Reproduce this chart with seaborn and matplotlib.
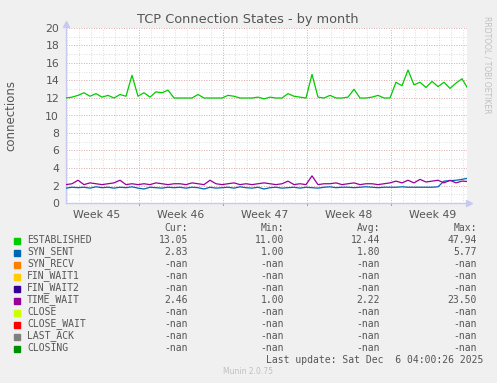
import numpy as np
import pandas as pd
import matplotlib
matplotlib.use("Agg")
import matplotlib.pyplot as plt
import seaborn as sns

established = [12.0, 12.1, 12.3, 12.6, 12.2, 12.5, 12.1, 12.3, 12.0, 12.4,
               12.2, 14.6, 12.2, 12.6, 12.1, 12.7, 12.6, 12.9, 12.0, 12.0,
               12.0, 12.0, 12.4, 12.0, 12.0, 12.0, 12.0, 12.3, 12.2, 12.0,
               12.0, 12.0, 12.1, 11.9, 12.1, 12.0, 12.0, 12.5, 12.2, 12.1,
               12.0, 14.7, 12.1, 12.0, 12.3, 12.0, 12.0, 12.1, 13.0, 12.0,
               12.0, 12.1, 12.3, 12.0, 12.0, 13.8, 13.4, 15.2, 13.5, 13.8,
               13.2, 13.9, 13.3, 13.8, 13.1, 13.7, 14.2, 13.05]
syn_sent = [1.7, 1.8, 1.75, 1.8, 1.7, 1.85, 1.75, 1.8, 1.7, 1.8,
            1.75, 1.85, 1.7, 1.6, 1.8, 1.75, 1.7, 1.8, 1.75, 1.8,
            1.7, 1.8, 1.75, 1.6, 1.8, 1.7, 1.75, 1.8, 1.7, 1.85,
            1.75, 1.7, 1.8, 1.6, 1.75, 1.8, 1.7, 1.75, 1.8, 1.7,
            1.8, 1.75, 1.7, 1.8, 1.85, 1.75, 1.8, 1.8, 1.75, 1.8,
            1.85, 1.8, 1.75, 1.8, 1.8, 1.8, 1.85, 1.8, 1.8, 1.8,
            1.8, 1.8, 1.85, 2.5, 2.55, 2.6, 2.7, 2.83]
time_wait = [2.1, 2.2, 2.6, 2.1, 2.3, 2.2, 2.1, 2.2, 2.3, 2.6,
             2.1, 2.2, 2.1, 2.2, 2.1, 2.3, 2.2, 2.1, 2.2, 2.2,
             2.1, 2.3, 2.2, 2.1, 2.6, 2.2, 2.1, 2.2, 2.3, 2.1,
             2.2, 2.1, 2.2, 2.3, 2.2, 2.1, 2.2, 2.5, 2.1, 2.2,
             2.1, 3.1, 2.1, 2.2, 2.2, 2.3, 2.1, 2.2, 2.3, 2.1,
             2.2, 2.2, 2.1, 2.2, 2.3, 2.5, 2.3, 2.6, 2.3, 2.7,
             2.4, 2.5, 2.6, 2.3, 2.6, 2.3, 2.5, 2.46]
week_labels = ["Week 45", "Week 46", "Week 47", "Week 48", "Week 49"]

legend_names = ["ESTABLISHED", "SYN_SENT", "SYN_RECV", "FIN_WAIT1", "FIN_WAIT2",
                "TIME_WAIT", "CLOSE", "CLOSE_WAIT", "LAST_ACK", "CLOSING"]
legend_colors = ["#00CC00", "#0066B3", "#FF8000", "#FFCC00", "#330099",
                 "#990099", "#CCFF00", "#FF0000", "#808080", "#008F00"]
cur_vals = ["13.05", "2.83", "-nan", "-nan", "-nan", "2.46", "-nan", "-nan", "-nan", "-nan"]
min_vals = ["11.00", "1.00", "-nan", "-nan", "-nan", "1.00", "-nan", "-nan", "-nan", "-nan"]
avg_vals = ["12.44", "1.80", "-nan", "-nan", "-nan", "2.22", "-nan", "-nan", "-nan", "-nan"]
max_vals = ["47.94", "5.77", "-nan", "-nan", "-nan", "23.50", "-nan", "-nan", "-nan", "-nan"]

days = np.arange(len(established)) * 0.5
df = pd.DataFrame({
    "day": np.concatenate([days, days, days]),
    "value": established + syn_sent + time_wait,
    "state": ["ESTABLISHED"] * len(days) + ["SYN_SENT"] * len(days) + ["TIME_WAIT"] * len(days),
})

sns.set_style("white")
plt.rcParams["font.family"] = ["DejaVu Sans"]

W, H = 497, 383
fig = plt.figure(figsize=(W / 100, H / 100), dpi=100, facecolor="#F0F0F0")
left, right, top, bottom = 66, 467, 28, 203
ax = fig.add_axes([left / W, 1 - bottom / H, (right - left) / W, (bottom - top) / H])
ax.set_facecolor("white")

xmax = (right - left) / 12.0
ax.set_xlim(0, xmax)
ax.set_ylim(0, 20)

# grid
for d in np.arange(0, xmax, 1.0) + 0.08:
    ax.axvline(d, color="#d0d0d0", lw=0.6, ls=(0, (1, 2)), zorder=0)
for y in range(1, 21):
    ax.axhline(y, color="#d0d0d0", lw=0.6, ls=(0, (1, 2)), zorder=0)
for y in range(2, 21, 2):
    ax.axhline(y, color="#e6a0a0", lw=0.6, ls=(0, (1, 2)), zorder=0.5)
week_bounds = [6.08, 13.08, 20.08, 27.08]
for b in week_bounds:
    ax.axvline(b, color="#e6a0a0", lw=0.6, ls=(0, (1, 2)), zorder=0.5)

sns.lineplot(data=df, x="day", y="value", hue="state",
             palette={"ESTABLISHED": "#00CC00", "SYN_SENT": "#0066B3", "TIME_WAIT": "#990099"},
             hue_order=["SYN_SENT", "TIME_WAIT", "ESTABLISHED"],
             linewidth=0.9, legend=False, ax=ax, zorder=3)

ax.set_xlabel("")
ax.set_ylabel("connections", color="#555555", fontsize=8.5, labelpad=20)
ax.set_yticks(range(0, 21, 2))
ax.set_yticklabels([str(v) for v in range(0, 21, 2)], color="#555555", fontsize=7.8)
ax.set_xticks([b - 3.5 for b in week_bounds] + [week_bounds[-1] + 3.5])
ax.set_xticklabels(week_labels, color="#555555", fontsize=7.8)
ax.tick_params(axis="x", length=0, pad=5)
ax.tick_params(axis="y", length=2, color="#aaaaaa", pad=3)
for b in week_bounds:
    ax.plot([b, b], [-0.25, 0], color="#e08080", lw=0.8, clip_on=False)

for s in ["top", "right"]:
    ax.spines[s].set_visible(False)
for s in ["left", "bottom"]:
    ax.spines[s].set_color("#c8c8f0")
    ax.spines[s].set_linewidth(1.0)
ax.plot([xmax + 0.15], [0], marker=">", color="#c8c8f0", ms=5, clip_on=False)
ax.plot([0], [20.5], marker="^", color="#c8c8f0", ms=5, clip_on=False)

fig.text(248 / W, 1 - 19 / H, "TCP Connection States - by month", ha="center", va="center",
         color="#555555", fontsize=9.3)
fig.text(487 / W, 1 - 65 / H, "RRDTOOL / TOBI OETIKER", ha="center", va="center",
         rotation=270, color="#c0c0c0", fontsize=5.5)

mono = "DejaVu Sans Mono"
fs = 7.0
tc = "#555555"
def fy(py):
    return 1 - py / H

fig.text(188 / W, fy(228), "Cur:", ha="right", va="center", family=mono, fontsize=fs, color=tc)
fig.text(284 / W, fy(228), "Min:", ha="right", va="center", family=mono, fontsize=fs, color=tc)
fig.text(380 / W, fy(228), "Avg:", ha="right", va="center", family=mono, fontsize=fs, color=tc)
fig.text(477 / W, fy(228), "Max:", ha="right", va="center", family=mono, fontsize=fs, color=tc)
for i, name in enumerate(legend_names):
    py = 240 + i * 12
    fig.patches.append(plt.Rectangle(((14) / W, fy(py + 3.5)), 6 / W, 6 / H,
                                     transform=fig.transFigure, color=legend_colors[i]))
    fig.text(27 / W, fy(py), name, ha="left", va="center", family=mono, fontsize=fs, color=tc)
    fig.text(188 / W, fy(py), cur_vals[i], ha="right", va="center", family=mono, fontsize=fs, color=tc)
    fig.text(284 / W, fy(py), min_vals[i], ha="right", va="center", family=mono, fontsize=fs, color=tc)
    fig.text(380 / W, fy(py), avg_vals[i], ha="right", va="center", family=mono, fontsize=fs, color=tc)
    fig.text(477 / W, fy(py), max_vals[i], ha="right", va="center", family=mono, fontsize=fs, color=tc)
fig.text(483 / W, fy(360), "Last update: Sat Dec  6 04:00:26 2025", ha="right", va="center",
         family=mono, fontsize=fs, color=tc)
fig.text(248 / W, fy(372), "Munin 2.0.75", ha="center", va="center", fontsize=5.5, color="#c0c0c0")

fig.savefig("out.png", dpi=100, facecolor=fig.get_facecolor())
